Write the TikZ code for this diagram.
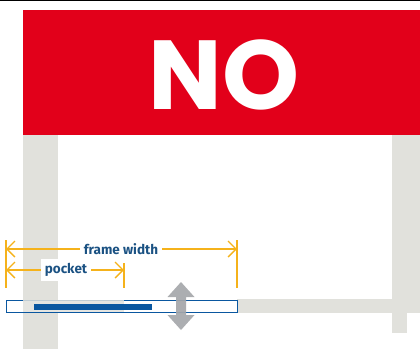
\documentclass[tikz,border=0pt]{standalone}
\usepackage{fontspec}
\setmainfont{Fira Sans}
\newfontfamily\signfont{Poppins}
\usetikzlibrary{arrows.meta}

\definecolor{signred}{HTML}{E2001A}
\definecolor{postgray}{HTML}{E1E1DC}
\definecolor{arrowgray}{HTML}{A5A7AA}
\definecolor{framblue}{HTML}{0A57A0}
\definecolor{textblue}{HTML}{1B5283}
\definecolor{dimyellow}{HTML}{F5B21B}

\tikzset{
  post/.style={fill=postgray, draw=none},
  dimline/.style={dimyellow, line width=1.4pt},
  dimarrow/.style={dimline, {Straight Barb[length=8pt,width=16pt]}-{Straight Barb[length=8pt,width=16pt]}},
  dimlabel/.style={fill=white, text=textblue, font=\bfseries\fontsize{13.5}{15}\selectfont, inner sep=4pt}
}

\begin{document}
\begin{tikzpicture}[x=1pt, y=-1pt]
    \useasboundingbox (0,0) rectangle (420,349);
    \draw[black, line width=1pt] (0,0.5) -- (420,0.5);
    % Sign
    \fill[signred] (23,10) rectangle (420,135);
    \node[text=white, font=\signfont\bfseries\fontsize{98}{100}\selectfont, inner sep=0pt] (sign) at (224,75) {NO};
    % Posts and lower rail
    \fill[post] (23,135) rectangle (58,349);
    \fill[post] (392,135) rectangle (420,313);
    \fill[post] (392,313) rectangle (407,333);
    \fill[post] (237,299) rectangle (392,313);
    % Frame in the pocket
    \draw[framblue, line width=1pt, fill=white] (6,300) rectangle (237,312.5);
    \fill[postgray, opacity=0.85] (23,299.5) rectangle (124,312);
    \fill[framblue] (34,304) rectangle (152,310);
    % Up-down arrow
    \fill[arrowgray, opacity=0.92] (181,282) -- (194.5,297) -- (186,297) -- (186,315) -- (194.5,315)
        -- (181,330) -- (167.5,315) -- (176,315) -- (176,297) -- (167.5,297) -- cycle;
    % Dimensions
    \coordinate (fwL) at (6,249);
    \coordinate (fwR) at (237,249);
    \coordinate (pkL) at (6,270);
    \coordinate (pkR) at (124,270);
    \draw[dimline] (6,240) -- (6,288);
    \draw[dimline] (237,240) -- (237,288);
    \draw[dimline] (124,263) -- (124,288);
    \draw[dimarrow] (fwL) -- (fwR);
    \draw[dimarrow] (pkL) -- (pkR);
    \node[dimlabel] (fwtext) at (121,249) {frame width};
    \node[dimlabel] (pktext) at (66,270) {pocket};
\end{tikzpicture}
\end{document}
